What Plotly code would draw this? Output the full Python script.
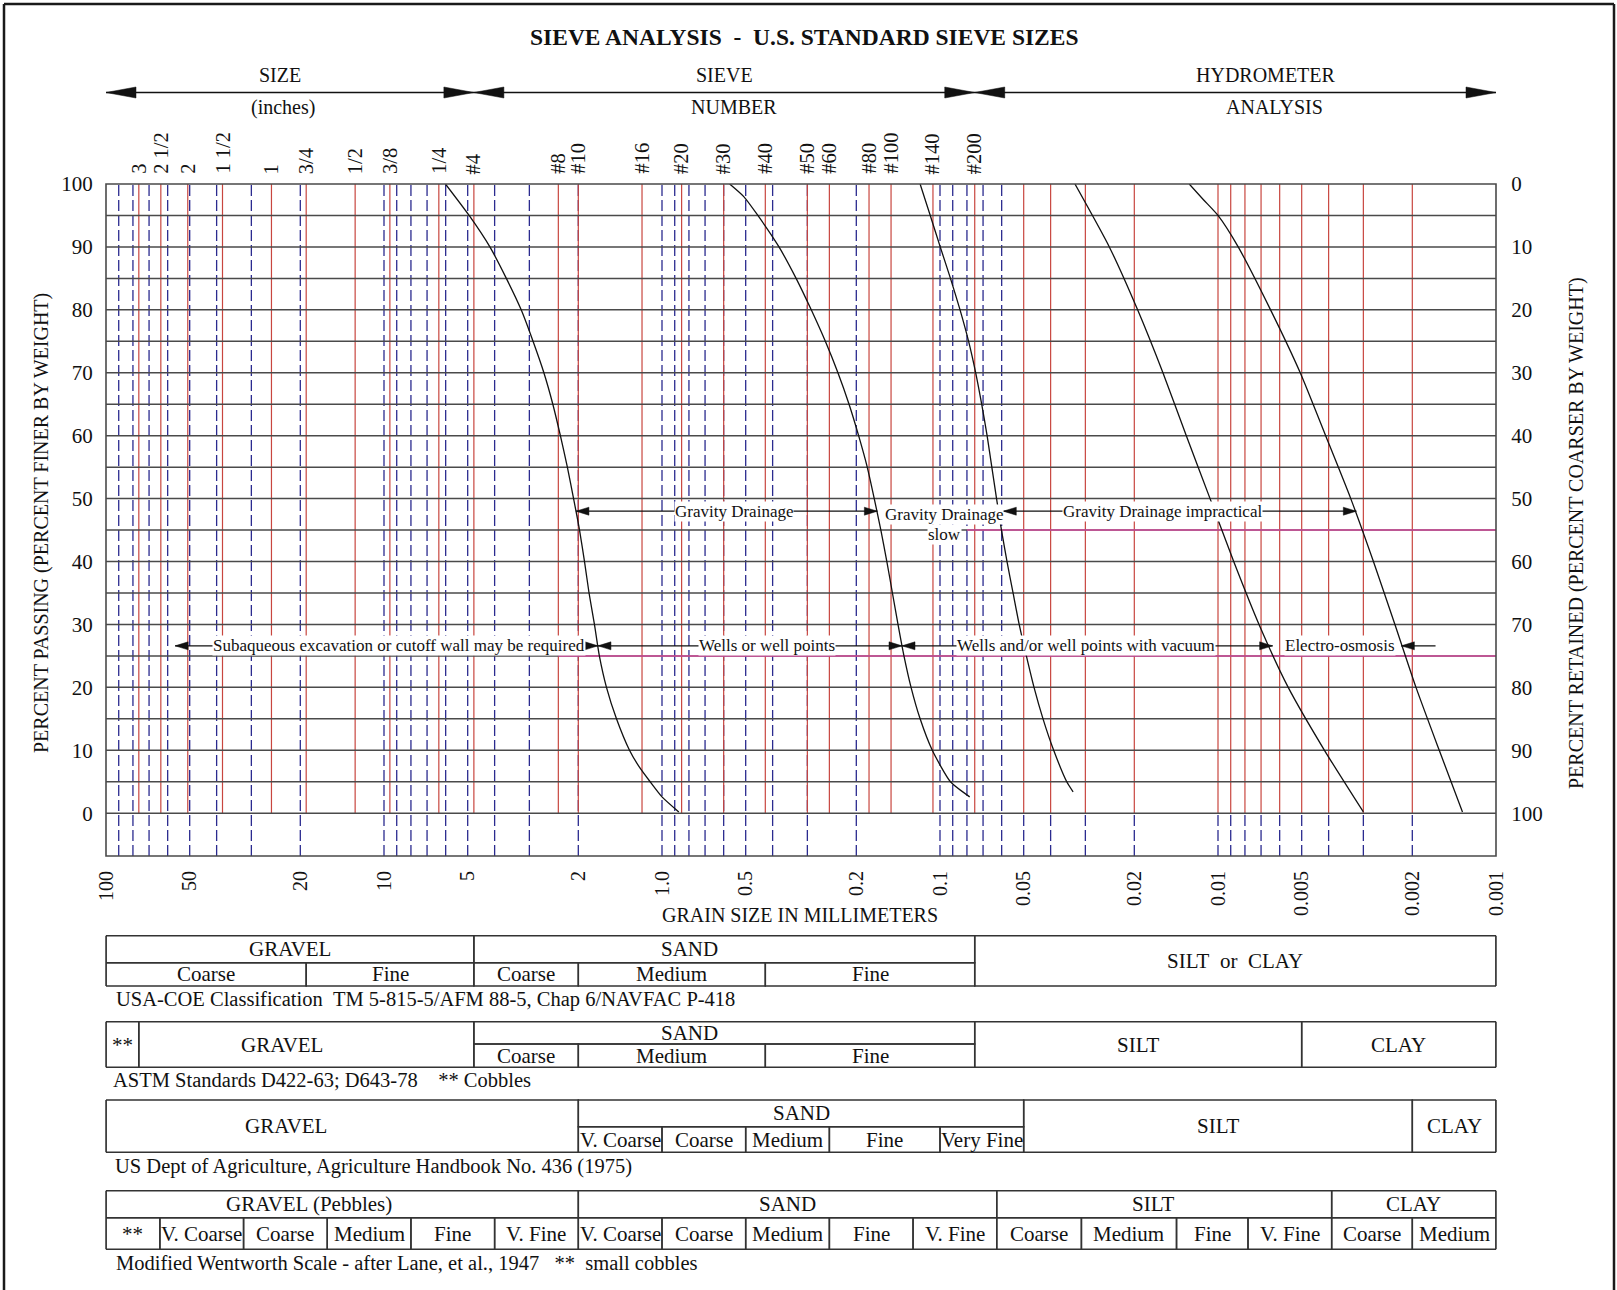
import numpy as np
import plotly.graph_objects as go

# ---------------- page geometry (pixels) ----------------
W, H = 1617, 1290
PL, PR, PT, PB = 106, 1496, 184, 856          # plotting rectangle
SERIF = "Liberation Serif, Times New Roman, serif"
INK = "#111111"
RED = "#c8463f"
BLUE = "#2b2b8f"
GRID = "#4a4a4a"
PINK = "#d44c9e"
RULE = "#333333"

Y_LOW, Y_TOP = -6.8, 100.0


def xp(px):
    return (px - PL) / (PR - PL)


def yp(py):
    return (PB - py) / (PB - PT)


def lg(v):
    return float(np.log10(v))


# ---------------- data ----------------
# U.S. standard sieve openings (mm) and their labels
sieve_labels = ["3", "2 1/2", "2", "1 1/2", "1", "3/4", "1/2", "3/8", "1/4",
                "#4", "#8", "#10", "#16", "#20", "#30", "#40", "#50", "#60",
                "#80", "#100", "#140", "#200"]
sieve_mm = [76.2, 63.5, 50.8, 38.1, 25.4, 19.05, 12.7, 9.525, 6.35,
            4.75, 2.36, 2.00, 1.18, 0.85, 0.60, 0.425, 0.30, 0.25,
            0.18, 0.15, 0.106, 0.075]
# hydrometer reference sizes (mm)
hydrometer_mm = [0.05, 0.04, 0.03, 0.02, 0.01, 0.009, 0.008, 0.007,
                 0.006, 0.005, 0.004, 0.003, 0.002]
# logarithmic grid
log_grid_mm = [90, 80, 70, 60, 50, 40, 30, 20,
               10, 9, 8, 7, 6, 5, 4, 3, 2,
               1.0, 0.9, 0.8, 0.7, 0.6, 0.5, 0.4, 0.3, 0.2,
               0.1, 0.09, 0.08, 0.07, 0.06]
log_grid_lower_mm = [0.05, 0.04, 0.03, 0.02, 0.01, 0.009, 0.008, 0.007,
                     0.006, 0.005, 0.004, 0.003, 0.002]
pct_lines = list(range(0, 100, 5))

x_tick_mm = [100, 50, 20, 10, 5, 2, 1, 0.5, 0.2, 0.1, 0.05, 0.02, 0.01, 0.005, 0.002, 0.001]
x_tick_text = ["100", "50", "20", "10", "5", "2", "1.0", "0.5", "0.2", "0.1",
               "0.05", "0.02", "0.01", "0.005", "0.002", "0.001"]
pct_ticks = list(range(0, 101, 10))

# gradation curves: grain size (mm) vs percent passing
curve_a_mm = [6.01, 4.94, 4.16, 3.63, 3.21, 2.91, 2.66, 2.47, 2.32, 2.19, 2.08,
              1.98, 1.90, 1.83, 1.75, 1.68, 1.584, 1.458, 1.309, 1.209, 1.103, 1.0, 0.870]
curve_a_pct = [100, 95, 90, 85, 80, 75, 70, 65, 60, 55, 50,
               45, 40, 35, 30, 25, 20, 15, 10, 7.4, 5, 2.6, 0.2]

curve_b_mm = [0.571, 0.508, 0.452, 0.3795, 0.3293, 0.2905, 0.2585, 0.2329, 0.2124, 0.1962,
              0.1827, 0.1724, 0.1632, 0.1553, 0.1483, 0.1416, 0.1348, 0.1271, 0.1179,
              0.1066, 0.0917, 0.0782]
curve_b_pct = [100, 98, 95, 90, 85, 80, 75, 70, 65, 60,
               55, 50, 45, 40, 35, 30, 25, 20, 15,
               10, 5, 2.6]

curve_c_mm = [0.1179, 0.1084, 0.0998, 0.0917, 0.0847, 0.0789, 0.0744, 0.0708, 0.0677,
              0.0651, 0.0626, 0.0601, 0.0574, 0.0546, 0.0519, 0.0489, 0.0459, 0.0426,
              0.0390, 0.0350, 0.0332]
curve_c_pct = [100, 95, 90, 85, 80, 75, 70, 65, 60,
               55, 50, 45, 40, 35, 30, 25, 20, 15,
               10, 5, 3.4]

curve_d_mm = [0.0327, 0.0246, 0.01946, 0.01578, 0.0130, 0.01068, 0.00878,
              0.00712, 0.00559, 0.00414, 0.0030]
curve_d_pct = [100, 90, 80, 70, 60, 50, 40, 30, 20, 10, 0.2]

curve_e_mm = [0.01269, 0.01128, 0.0100, 0.00846, 0.00647, 0.00506, 0.0041, 0.00333,
              0.00276, 0.00231, 0.00194, 0.0016, 0.00132]
curve_e_pct = [100, 97.5, 95, 90, 80, 70, 60, 50, 40, 30, 20, 10, 0.2]

curves = [(curve_a_mm, curve_a_pct), (curve_b_mm, curve_b_pct), (curve_c_mm, curve_c_pct),
          (curve_d_mm, curve_d_pct), (curve_e_mm, curve_e_pct)]

# dewatering ranges: (percent level, from mm, to mm, head at start, head at end)
range_arrows = [
    (48.0, 2.04, 0.168, True, True),
    (48.0, 0.0592, 0.00318, True, True),
    (26.6, 56.4, 1.70, True, True),
    (26.6, 1.70, 0.137, True, True),
    (26.6, 0.137, 0.00636, True, True),
    (26.6, 0.00219, 0.00165, True, False),
]
range_labels = ["Gravity Drainage", "Gravity Drainage", "slow", "Gravity Drainage impractical",
                "Subaqueous excavation or cutoff wall may be required", "Wells or well points",
                "Wells and/or well points with vacuum", "Electro-osmosis"]
range_label_mm = [0.55, 0.0965, 0.0965, 0.0158, 8.8, 0.42, 0.0298, 0.00365]
range_label_pct = [47.9, 47.4, 44.3, 47.9, 26.6, 26.6, 26.6, 26.6]

# pink reference levels: (percent, from mm)
pink_levels = [(25, 2.36), (45, 0.08)]

# top banner spans (mm)
banner_mm = [100, 4.75, 0.075, 0.001]

# classification tables
t1_labels = ["GRAVEL", "SAND", "Coarse", "Fine", "Coarse", "Medium", "Fine", "SILT\u00a0\u00a0or\u00a0\u00a0CLAY"]
t1_from = [100, 4.75, 100, 19.05, 4.75, 2.0, 0.425, 0.075]
t1_to = [4.75, 0.075, 19.05, 4.75, 2.0, 0.425, 0.075, 0.001]
t1_rows = ["top", "top", "low", "low", "low", "low", "low", "both"]

t2_labels = ["**", "GRAVEL", "SAND", "Coarse", "Medium", "Fine", "SILT", "CLAY"]
t2_from = [100, 76.2, 4.75, 4.75, 2.0, 0.425, 0.075, 0.005]
t2_to = [76.2, 4.75, 0.075, 2.0, 0.425, 0.075, 0.005, 0.001]
t2_rows = ["both", "both", "top", "low", "low", "low", "both", "both"]

t3_labels = ["GRAVEL", "SAND", "V. Coarse", "Coarse", "Medium", "Fine", "Very Fine", "SILT", "CLAY"]
t3_from = [100, 2.0, 2.0, 1.0, 0.5, 0.25, 0.1, 0.05, 0.002]
t3_to = [2.0, 0.05, 1.0, 0.5, 0.25, 0.1, 0.05, 0.002, 0.001]
t3_rows = ["both", "top", "low", "low", "low", "low", "low", "both", "both"]

t4_labels = ["GRAVEL (Pebbles)", "SAND", "SILT", "CLAY",
             "**", "V. Coarse", "Coarse", "Medium", "Fine", "V. Fine",
             "V. Coarse", "Coarse", "Medium", "Fine", "V. Fine",
             "Coarse", "Medium", "Fine", "V. Fine", "Coarse", "Medium"]
t4_from = [100, 2.0, 0.0625, 0.0039,
           100, 64, 32, 16, 8, 4,
           2.0, 1.0, 0.5, 0.25, 0.125,
           0.0625, 0.031, 0.0141, 0.0078, 0.0039, 0.002]
t4_to = [2.0, 0.0625, 0.0039, 0.001,
         64, 32, 16, 8, 4, 2.0,
         1.0, 0.5, 0.25, 0.125, 0.0625,
         0.031, 0.0141, 0.0078, 0.0039, 0.002, 0.001]
t4_rows = ["top"] * 4 + ["low"] * 17

table_captions = [
    "USA-COE Classification\u00a0\u00a0TM 5-815-5/AFM 88-5, Chap 6/NAVFAC P-418",
    "ASTM Standards D422-63; D643-78\u00a0\u00a0\u00a0\u00a0** Cobbles",
    "US Dept of Agriculture, Agriculture Handbook No. 436 (1975)",
    "Modified Wentworth Scale - after Lane, et al., 1947\u00a0\u00a0\u00a0**\u00a0\u00a0small cobbles",
]

# table placement (pixels): top, middle, bottom rule, caption centre, caption left
table_rows_px = [(935.7, 962.7, 986.0, 999, 115),
                 (1021.7, 1044.0, 1067.3, 1080, 112),
                 (1100.0, 1126.7, 1152.3, 1166, 114),
                 (1190.7, 1217.7, 1249.3, 1263, 115)]
tables = [(t1_labels, t1_from, t1_to, t1_rows),
          (t2_labels, t2_from, t2_to, t2_rows),
          (t3_labels, t3_from, t3_to, t3_rows),
          (t4_labels, t4_from, t4_to, t4_rows)]
# header captions that sit off the cell centre (table index, label) -> pixel x
label_px_override = {(0, "SAND"): 689, (1, "GRAVEL"): 282, (1, "SAND"): 689,
                     (2, "GRAVEL"): 286, (3, "GRAVEL (Pebbles)"): 309, (3, "SILT"): 1153}


# ---------------- helpers ----------------
def vsegs(xs, y0, y1):
    x, y = [], []
    for v in xs:
        x += [v, v, None]
        y += [y0, y1, None]
    return x, y


def head(x_mm, y, direction, yref="y", length=13, half=4):
    if direction == "right":
        path = f"M0,0 L{-length},{half} L{-length},{-half} Z"
    else:
        path = f"M0,0 L{length},{half} L{length},{-half} Z"
    return dict(type="path", xref="x", yref=yref, xsizemode="pixel", ysizemode="pixel",
                xanchor=x_mm, yanchor=y, path=path, fillcolor=INK,
                line=dict(color=INK, width=0.5), layer="above")


fig = go.Figure()

# blue logarithmic grid
gx, gy = vsegs(log_grid_mm, Y_LOW, Y_TOP)
fig.add_trace(go.Scatter(x=gx, y=gy, mode="lines", hoverinfo="skip",
                         line=dict(color=BLUE, width=1.3, dash="11px,4px")))
gx, gy = vsegs(log_grid_lower_mm, Y_LOW, 0)
fig.add_trace(go.Scatter(x=gx, y=gy, mode="lines", hoverinfo="skip",
                         line=dict(color=BLUE, width=1.3, dash="11px,4px")))

# red sieve / hydrometer lines
gx, gy = vsegs(sieve_mm + hydrometer_mm, 0, Y_TOP)
fig.add_trace(go.Scatter(x=gx, y=gy, mode="lines", hoverinfo="skip",
                         line=dict(color=RED, width=1.2)))

# horizontal percent lines
hx, hy = [], []
for p in pct_lines:
    hx += [100, 0.001, None]
    hy += [p, p, None]
fig.add_trace(go.Scatter(x=hx, y=hy, mode="lines", hoverinfo="skip",
                         line=dict(color=GRID, width=1.5)))

# pink reference levels
px_, py_ = [], []
for p, start in pink_levels:
    px_ += [start, 0.001, None]
    py_ += [p, p, None]
fig.add_trace(go.Scatter(x=px_, y=py_, mode="lines", hoverinfo="skip",
                         line=dict(color=PINK, width=1.5)))

# gradation curves
for cx, cy in curves:
    fig.add_trace(go.Scatter(x=cx, y=cy, mode="lines", hoverinfo="skip",
                             line=dict(color=INK, width=1.3, shape="spline", smoothing=0.6)))

# range arrows
shapes = []
ax_, ay_ = [], []
for lvl, a, b, ha, hb in range_arrows:
    ax_ += [a, b, None]
    ay_ += [lvl, lvl, None]
    if ha:
        shapes.append(head(a, lvl, "left"))
    if hb:
        shapes.append(head(b, lvl, "right"))
fig.add_trace(go.Scatter(x=ax_, y=ay_, mode="lines", hoverinfo="skip",
                         line=dict(color=INK, width=1.2)))

# carrier for the right-hand scale
fig.add_trace(go.Scatter(x=[1], y=[50], yaxis="y2", mode="markers",
                         marker=dict(opacity=0), hoverinfo="skip"))

# plotting frame
shapes.append(dict(type="rect", xref="paper", yref="paper", x0=0, x1=1, y0=0, y1=1,
                   line=dict(color=GRID, width=1.6), layer="above"))

# banner arrows above the chart
BANNER_Y = yp(92.5)
shapes.append(dict(type="line", xref="x", yref="paper", x0=banner_mm[0], x1=banner_mm[-1],
                   y0=BANNER_Y, y1=BANNER_Y, line=dict(color=INK, width=1.5)))
for i, b in enumerate(banner_mm):
    if i > 0:
        shapes.append(head(b, BANNER_Y, "right", yref="paper", length=30, half=5.5))
    if i < len(banner_mm) - 1:
        shapes.append(head(b, BANNER_Y, "left", yref="paper", length=30, half=5.5))

annotations = []


def txt(x, y, s, size=20, xref="paper", yref="paper", angle=0, xanchor="center",
        yanchor="middle", bold=False, bg=None):
    d = dict(x=x, y=y, xref=xref, yref=yref, text=f"<b>{s}</b>" if bold else s,
             showarrow=False, textangle=angle, xanchor=xanchor, yanchor=yanchor,
             font=dict(family=SERIF, size=size, color=INK), borderpad=0)
    if bg:
        d["bgcolor"] = bg
    annotations.append(d)


# titles and banner text
txt(xp(804), yp(37), "SIEVE ANALYSIS\u00a0\u00a0-\u00a0\u00a0U.S. STANDARD SIEVE SIZES", size=23.5, bold=True)
txt(xp(280), yp(75), "SIZE")
txt(xp(283), yp(107), "(inches)")
txt(xp(724), yp(75), "SIEVE")
txt(xp(734), yp(107), "NUMBER")
txt(xp(1266), yp(75), "HYDROMETER")
txt(xp(1274), yp(107), "ANALYSIS")
txt(xp(41), yp(523), "PERCENT PASSING (PERCENT FINER BY WEIGHT)", angle=-90)
txt(xp(1576), yp(533), "PERCENT RETAINED (PERCENT COARSER BY WEIGHT)", angle=-90)
txt(xp(800), yp(915), "GRAIN SIZE IN MILLIMETERS")

# sieve labels
for lab, mm in zip(sieve_labels, sieve_mm):
    txt(lg(mm), yp(175), lab, size=20.5, xref="x", angle=-90, yanchor="bottom")

# range labels
for lab, mm, p in zip(range_labels, range_label_mm, range_label_pct):
    txt(lg(mm), p, lab, size=17, xref="x", yref="y", bg="white")

# classification tables
for ti, ((labels, x0s, x1s, rows), (ytop, ymid, ybot, ycap, xcap), cap) in enumerate(
        zip(tables, table_rows_px, table_captions)):
    for lab, a, b, r in zip(labels, x0s, x1s, rows):
        top, bot = {"top": (ytop, ymid), "low": (ymid, ybot), "both": (ytop, ybot)}[r]
        shapes.append(dict(type="rect", xref="x", yref="paper", x0=a, x1=b,
                           y0=yp(bot), y1=yp(top), line=dict(color=RULE, width=1.5)))
        ymid_lab = yp(0.5 * (top + bot))
        if (ti, lab) in label_px_override:
            txt(xp(label_px_override[(ti, lab)]), ymid_lab, lab, size=21)
        else:
            txt(0.5 * (lg(a) + lg(b)), ymid_lab, lab, size=21, xref="x")
    for xe in (0, 1):
        shapes.append(dict(type="line", xref="paper", yref="paper", x0=xe, x1=xe,
                           y0=yp(ybot), y1=yp(ytop), line=dict(color=RULE, width=1.5)))
    txt(xp(xcap), yp(ycap), cap, size=20.5, xanchor="left")

# page border
for (x0, y0, x1, y1) in [(4, 4, 4, 1290), (4, 4, 1614, 4), (1614, 4, 1614, 1290)]:
    shapes.append(dict(type="line", xref="paper", yref="paper", x0=xp(x0), x1=xp(x1),
                       y0=yp(y0), y1=yp(y1), line=dict(color="#1a1a1a", width=2.5)))

fig.update_layout(
    width=W, height=H,
    margin=dict(l=PL, r=W - PR, t=PT, b=H - PB, pad=0),
    paper_bgcolor="white", plot_bgcolor="white",
    showlegend=False,
    font=dict(family=SERIF, color=INK),
    xaxis=dict(type="log", range=[2, -3], tickvals=x_tick_mm, ticktext=x_tick_text,
               tickangle=-90, showgrid=False, zeroline=False, showline=False,
               ticks="outside", ticklen=6, tickcolor="rgba(0,0,0,0)",
               tickfont=dict(family=SERIF, size=20, color=INK)),
    yaxis=dict(range=[Y_LOW, Y_TOP], tickvals=pct_ticks, showgrid=False, zeroline=False,
               showline=False, ticks="outside", ticklen=8, tickcolor="rgba(0,0,0,0)",
               tickfont=dict(family=SERIF, size=21, color=INK)),
    yaxis2=dict(overlaying="y", side="right", range=[100 - Y_LOW, 0], tickvals=pct_ticks,
                showgrid=False, zeroline=False, showline=False, ticks="outside", ticklen=10,
                tickcolor="rgba(0,0,0,0)", tickfont=dict(family=SERIF, size=21, color=INK)),
    shapes=shapes,
    annotations=annotations,
)

fig.write_html("out.html")
